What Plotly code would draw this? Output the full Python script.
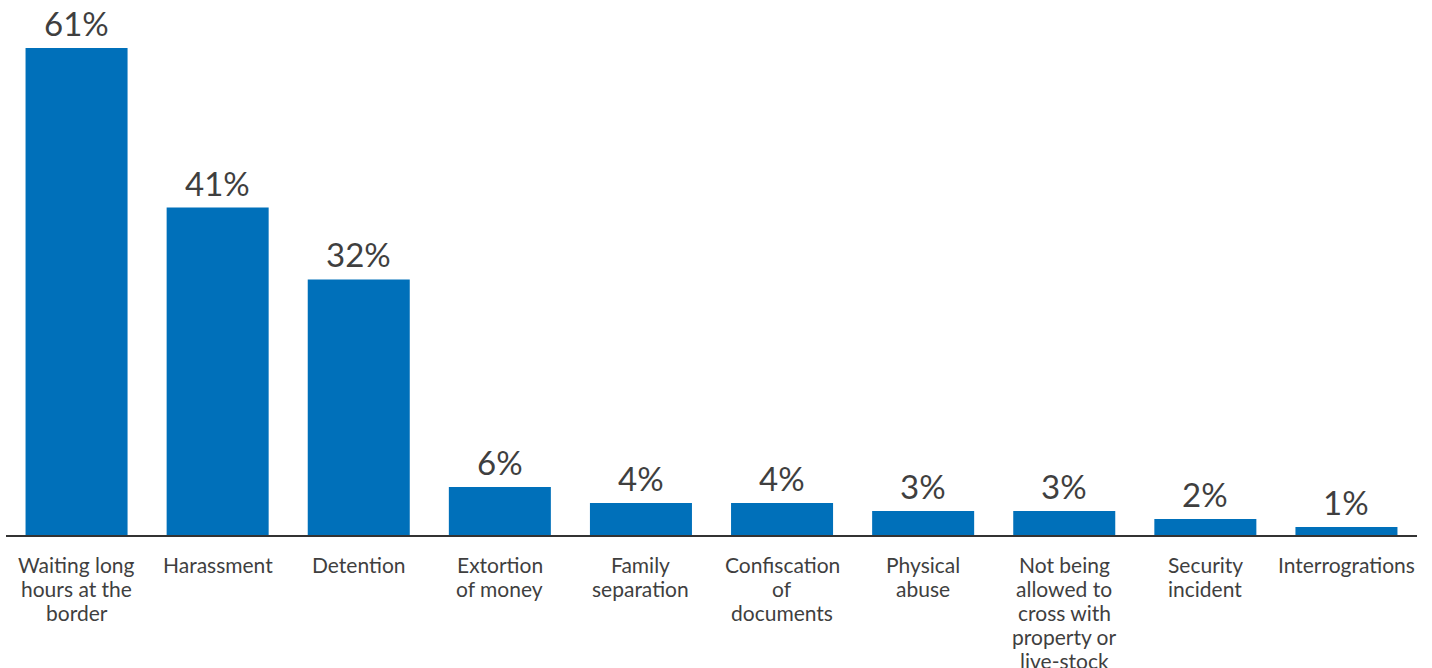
import plotly.graph_objects as go

categories = [
    "Waiting long<br>hours at the<br>border",
    "Harassment",
    "Detention",
    "Extortion<br>of money",
    "Family<br>separation",
    "Confiscation<br>of<br>documents",
    "Physical<br>abuse",
    "Not being<br>allowed to<br>cross with<br>property or<br>live-stock",
    "Security<br>incident",
    "Interrogrations",
]
shares = [61, 41, 32, 6, 4, 4, 3, 3, 2, 1]
value_labels = [f"{v}%" for v in shares]

BAR_COLOR = "#0070BA"
TEXT_COLOR = "#3f3f3f"
FONT = "Lato"
LINE_STEP = 24  # px between category label lines

fig = go.Figure(
    go.Bar(
        x=list(range(len(categories))),
        y=shares,
        marker=dict(color=BAR_COLOR, line=dict(width=0)),
        hoverinfo="skip",
    )
)

# value labels above each bar
for i, (v, lab) in enumerate(zip(shares, value_labels)):
    fig.add_annotation(
        x=i, y=v, text=lab, showarrow=False,
        xanchor="center", yanchor="bottom", yshift=3,
        font=dict(family=FONT, size=33, color=TEXT_COLOR),
    )

# category labels under the axis, one line at a time for tight leading
for i, cat in enumerate(categories):
    for k, line in enumerate(cat.split("<br>")):
        fig.add_annotation(
            x=i, xref="x", y=0, yref="paper", text=line, showarrow=False,
            xanchor="center", yanchor="middle", yshift=-(29 + LINE_STEP * k),
            font=dict(family=FONT, size=21, color=TEXT_COLOR),
        )

fig.update_layout(
    width=1432, height=668,
    margin=dict(l=6, r=15, t=0, b=133, pad=0, autoexpand=False),
    paper_bgcolor="white", plot_bgcolor="white",
    bargap=0.277,
    showlegend=False,
    font=dict(family=FONT, color=TEXT_COLOR),
    xaxis=dict(
        range=[-0.5, 9.5],
        showline=True, linecolor="#333333", linewidth=2,
        showgrid=False, zeroline=False, ticks="",
        showticklabels=False,
        automargin=False,
    ),
    yaxis=dict(
        range=[0, 67], visible=False, showgrid=False, zeroline=False,
        automargin=False,
    ),
)

fig.write_html("out.html")
